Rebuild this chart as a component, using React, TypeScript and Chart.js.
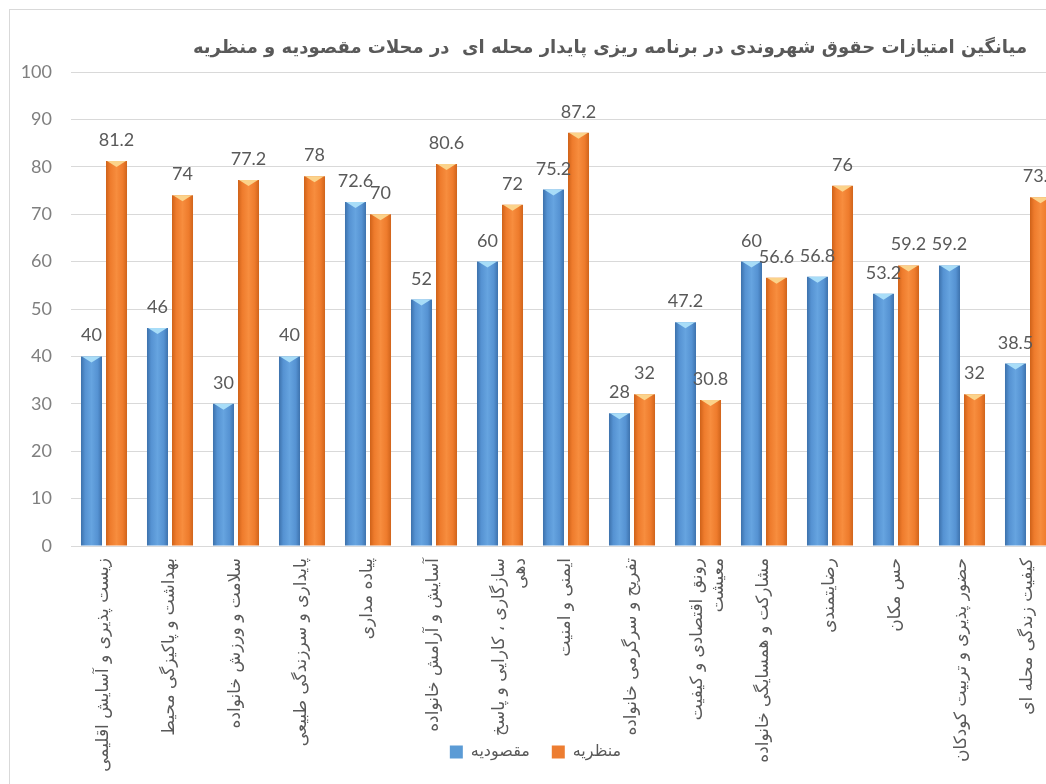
import React, { useEffect, useRef } from "react";
import { Chart, registerables } from "chart.js";

Chart.register(...registerables);

const TITLE =
  "میانگین امتیازات حقوق شهروندی در برنامه ریزی پایدار محله ای  در محلات مقصودیه و منظریه";

const CATEGORIES: (string | string[])[] = [
  "زیست پذیری و آسایش اقلیمی",
  "بهداشت و پاکیزگی محیط",
  "سلامت و ورزش خانواده",
  "پایداری و سرزندگی طبیعی",
  "پیاده مداری",
  "آسایش و آرامش خانواده",
  ["سازگاری ، کارایی و پاسخ", "دهی"],
  "ایمنی و امنیت",
  "تفریح و سرگرمی خانواده",
  ["رونق اقتصادی و کیفیت", "معیشت"],
  "مشارکت و همسایگی خانواده",
  "رضایتمندی",
  "حس مکان",
  "حضور پذیری و تربیت کودکان",
  "کیفیت زندگی محله ای",
];

const SERIES_NAMES = ["مقصودیه", "منظریه"];
const MAGHSOUDIEH = [40, 46, 30, 40, 72.6, 52, 60, 75.2, 28, 47.2, 60, 56.8, 53.2, 59.2, 38.5];
const MANZARIEH = [81.2, 74, 77.2, 78, 70, 80.6, 72, 87.2, 32, 30.8, 56.6, 76, 59.2, 32, 73.6];
const Y_MIN = 0;
const Y_MAX = 100;
const Y_STEP = 10;

const BLUE_STOPS: [number, string][] = [
  [0, "#3c71ab"],
  [0.2, "#5592d2"],
  [0.5, "#66a4e0"],
  [0.8, "#5592d2"],
  [1, "#3d72ad"],
];
const ORANGE_STOPS: [number, string][] = [
  [0, "#cf6219"],
  [0.2, "#ee7b2c"],
  [0.5, "#f78d3e"],
  [0.8, "#ee7b2c"],
  [1, "#d0641b"],
];
const CAP_COLORS = ["#a8ddf8", "#fbd38b"];

const cylinderPlugin = {
  id: "cylinder",
  afterLayout(chart: any) {
    // let the rotated category labels run past the axis box (they overlap the legend in the original)
    const xs = chart.scales.x;
    if (xs) xs.bottom = chart.height;
  },
  beforeDatasetsDraw(chart: any) {
    const ctx = chart.ctx;
    chart.data.datasets.forEach((_ds: any, di: number) => {
      const meta = chart.getDatasetMeta(di);
      const stops = di === 0 ? BLUE_STOPS : ORANGE_STOPS;
      meta.data.forEach((el: any) => {
        const { x, width } = el.getProps(["x", "width"], true);
        const g = ctx.createLinearGradient(x - width / 2, 0, x + width / 2, 0);
        stops.forEach(([o, c]) => g.addColorStop(o, c));
        el.options = Object.assign({}, el.options, { backgroundColor: g });
      });
    });
  },
  afterDatasetsDraw(chart: any) {
    const ctx = chart.ctx;
    ctx.save();
    chart.data.datasets.forEach((ds: any, di: number) => {
      const meta = chart.getDatasetMeta(di);
      meta.data.forEach((el: any) => {
        const { x, y, width } = el.getProps(["x", "y", "width"], true);
        ctx.beginPath();
        ctx.moveTo(x - width / 2 + 1, y);
        ctx.lineTo(x + width / 2 - 1, y);
        ctx.lineTo(x, y + 6);
        ctx.closePath();
        ctx.fillStyle = CAP_COLORS[di];
        ctx.fill();
      });
    });
    ctx.font = '18px Lato, "DejaVu Sans", sans-serif';
    ctx.fillStyle = "#595959";
    ctx.textAlign = "center";
    ctx.textBaseline = "alphabetic";
    chart.data.datasets.forEach((ds: any, di: number) => {
      const meta = chart.getDatasetMeta(di);
      meta.data.forEach((el: any, i: number) => {
        const { x, y } = el.getProps(["x", "y"], true);
        ctx.fillText(String(ds.data[i]), x, y - 15);
      });
    });
    ctx.restore();
  },
};

const titlePlugin = {
  id: "sideTitle",
  afterDraw(chart: any) {
    const ctx = chart.ctx;
    ctx.save();
    ctx.font = 'bold 18px "DejaVu Sans", sans-serif';
    ctx.fillStyle = "#595959";
    ctx.textAlign = "center";
    ctx.textBaseline = "middle";
    ctx.fillText(TITLE, chart.width / 2, 38);
    ctx.restore();
  },
};

export default function App() {
  const ref = useRef<HTMLCanvasElement | null>(null);

  useEffect(() => {
    if (!ref.current) return;
    const chart = new Chart(ref.current, {
      type: "bar",
      data: {
        labels: CATEGORIES,
        datasets: [
          {
            label: SERIES_NAMES[0],
            data: MAGHSOUDIEH,
            backgroundColor: "#5b9bd5",
            categoryPercentage: 0.758,
            barPercentage: 0.84,
          },
          {
            label: SERIES_NAMES[1],
            data: MANZARIEH,
            backgroundColor: "#ed7d31",
            categoryPercentage: 0.758,
            barPercentage: 0.84,
          },
        ],
      },
      options: {
        responsive: false,
        animation: false,
        layout: { padding: { top: 62, left: 0, right: 149, bottom: 40 } },
        plugins: {
          title: { display: false },
          tooltip: { enabled: false },
          legend: {
            position: "bottom",
            labels: {
              boxWidth: 13,
              boxHeight: 13,
              padding: 22,
              color: "#595959",
              font: { family: '"DejaVu Sans", sans-serif', size: 16 },
            },
          },
        },
        scales: {
          x: {
            grid: { display: false, drawTicks: false },
            border: { display: false },
            ticks: {
              autoSkip: false,
              minRotation: 90,
              maxRotation: 90,
              padding: 12,
              color: "#595959",
              font: { family: '"DejaVu Sans", sans-serif', size: 17 },
            },
            afterFit: (scale: any) => {
              scale.height = 176;
            },
          },
          y: {
            min: Y_MIN,
            max: Y_MAX,
            grid: { color: "#d9d9d9", drawTicks: false },
            border: { display: false },
            ticks: {
              stepSize: Y_STEP,
              padding: 19,
              color: "#7f7f7f",
              font: { family: 'Lato, "DejaVu Sans", sans-serif', size: 18 },
            },
            afterFit: (scale: any) => {
              scale.width = 61;
            },
          },
        },
      },
      plugins: [cylinderPlugin, titlePlugin],
    });
    return () => chart.destroy();
  }, []);

  return (
    <div
      style={{
        position: "fixed",
        left: 0,
        top: 0,
        width: 1046,
        height: 784,
        overflow: "hidden",
        background: "#ffffff",
      }}
    >
      <div
        style={{
          position: "absolute",
          left: 9,
          top: 9,
          borderLeft: "1px solid #d9d9d9",
          borderTop: "1px solid #d9d9d9",
        }}
      >
        <canvas ref={ref} width={1200} height={800} style={{ display: "block", width: 1200, height: 800 }} />
      </div>
    </div>
  );
}
